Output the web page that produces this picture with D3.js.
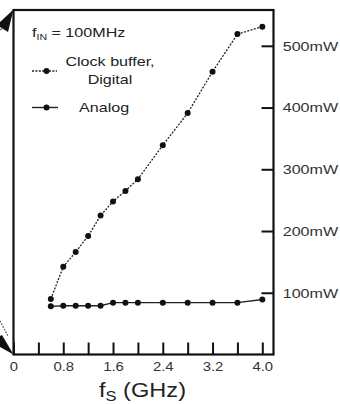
<!DOCTYPE html>
<html>
<head>
<meta charset="utf-8">
<script src="https://cdn.jsdelivr.net/npm/d3@7"></script>
<style>
  body { margin: 0; background: #fff; }
  text { font-family: "Liberation Sans", Arial, sans-serif; fill: #222; }
</style>
</head>
<body>
<svg id="chart" width="340" height="404"></svg>
<script>
// sampling frequency, GHz
const fs = [0.6, 0.8, 1.0, 1.2, 1.4, 1.6, 1.8, 2.0, 2.4, 2.8, 3.2, 3.6, 4.0];
// power, mW
const digital = [90, 142, 166, 192, 225, 248, 265, 284, 339, 391, 458, 519, 531];
const analog = [78, 79, 79, 79, 79, 84, 84, 84, 84, 84, 84, 84, 89];
const xTicks = [0, 0.4, 0.8, 1.2, 1.6, 2.0, 2.4, 2.8, 3.2, 3.6, 4.0];
const xLabels = ['0', '', '0.8', '', '1.6', '', '2.4', '', '3.2', '', '4.0'];
const yTicks = [100, 200, 300, 400, 500];

const SX = 1.24; // the original type is a bit wide
const svg = d3.select('#chart');

const x = d3.scaleLinear().domain([0, 4.18]).range([13.5, 273.5]);
const y = d3.scaleLinear().domain([0, 558]).range([354.5, 10]);

// frame
svg.append('rect')
  .attr('x', x(0)).attr('y', y(558))
  .attr('width', x(4.18) - x(0)).attr('height', y(0) - y(558))
  .attr('fill', 'none').attr('stroke', '#111').attr('stroke-width', 2.2);

// x axis, ticks pointing in
const xAxis = svg.append('g')
  .attr('transform', `translate(0,${y(0)})`)
  .call(d3.axisBottom(x).tickValues(xTicks).tickSizeInner(-12).tickSizeOuter(0)
    .tickPadding(5).tickFormat((d, i) => xLabels[i]));
xAxis.select('.domain').remove();
xAxis.selectAll('line').attr('stroke', '#111').attr('stroke-width', 2);
xAxis.selectAll('text')
  .attr('font-size', 12).attr('y', 17).attr('dy', 0)
  .attr('transform', `scale(${SX},1)`).style('fill', '#333');

// y axis on the right, ticks pointing in
const yAxis = svg.append('g')
  .attr('transform', `translate(${x(4.18)},0)`)
  .call(d3.axisRight(y).tickValues(yTicks).tickSizeInner(-12).tickSizeOuter(0)
    .tickFormat(d => d + 'mW'));
yAxis.select('.domain').remove();
yAxis.selectAll('line').attr('stroke', '#111').attr('stroke-width', 2);
yAxis.selectAll('text')
  .attr('font-size', 13).attr('x', 9.2 / SX).attr('dy', '0.34em')
  .attr('transform', `scale(${SX},1)`).style('fill', '#333');

// series
const line = d3.line().x(d => x(d[0])).y(d => y(d[1]));
const dig = fs.map((f, i) => [f, digital[i]]);
const ana = fs.map((f, i) => [f, analog[i]]);

svg.append('path').datum(ana).attr('d', line)
  .attr('fill', 'none').attr('stroke', '#222').attr('stroke-width', 1.4);
svg.append('path').datum(dig).attr('d', line)
  .attr('fill', 'none').attr('stroke', '#222').attr('stroke-width', 1.3)
  .attr('stroke-dasharray', '2,1.4');

svg.append('g').selectAll('circle').data(ana.concat(dig)).join('circle')
  .attr('cx', d => x(d[0])).attr('cy', d => y(d[1])).attr('r', 3)
  .attr('fill', '#111');

// legend
function label(px, py, size, anchor) {
  return svg.append('text')
    .attr('transform', `translate(${px},${py}) scale(${SX},1)`)
    .attr('font-size', size).attr('text-anchor', anchor || 'start');
}
const fin = label(32, 37, 13);
fin.append('tspan').text('f');
fin.append('tspan').attr('font-size', 8.5).attr('dy', 3).text('IN');
fin.append('tspan').attr('dy', -3).text(' = 100MHz');

label(110, 66, 13, 'middle').text('Clock buffer,');
label(110, 84, 13, 'middle').text('Digital');
label(79, 112, 13).text('Analog');

svg.append('line').attr('x1', 32).attr('x2', 57).attr('y1', 71).attr('y2', 71)
  .attr('stroke', '#222').attr('stroke-width', 1.3).attr('stroke-dasharray', '2,1.4');
svg.append('circle').attr('cx', 46.5).attr('cy', 71).attr('r', 3).attr('fill', '#111');
svg.append('line').attr('x1', 32).attr('x2', 58).attr('y1', 107.5).attr('y2', 107.5)
  .attr('stroke', '#222').attr('stroke-width', 1.4);
svg.append('circle').attr('cx', 46.5).attr('cy', 107.5).attr('r', 3).attr('fill', '#111');

// axis title
const title = svg.append('text')
  .attr('transform', `translate(99,397) scale(1.18,1)`)
  .attr('font-size', 20);
title.append('tspan').text('f');
title.append('tspan').attr('font-size', 14).attr('dy', 4).text('S');
title.append('tspan').attr('dy', -4).text(' (GHz)');

// arrow heads cut off at the left edge (from the neighbouring panel)
svg.append('path').attr('d', 'M13.5,9.5 L0,22 L0,27 L8,32 Z').attr('fill', '#111');
svg.append('path').attr('d', 'M13.5,354.5 L2,335 L0,336 L0,347 Z').attr('fill', '#111');
svg.append('line').attr('x1', 0).attr('y1', 321).attr('x2', 8).attr('y2', 336)
  .attr('stroke', '#444').attr('stroke-width', 1.2).attr('stroke-dasharray', '1.5,1.5');
svg.append('line').attr('x1', 0).attr('y1', 30).attr('x2', 3).attr('y2', 28)
  .attr('stroke', '#666').attr('stroke-width', 1.2);
</script>
</body>
</html>
